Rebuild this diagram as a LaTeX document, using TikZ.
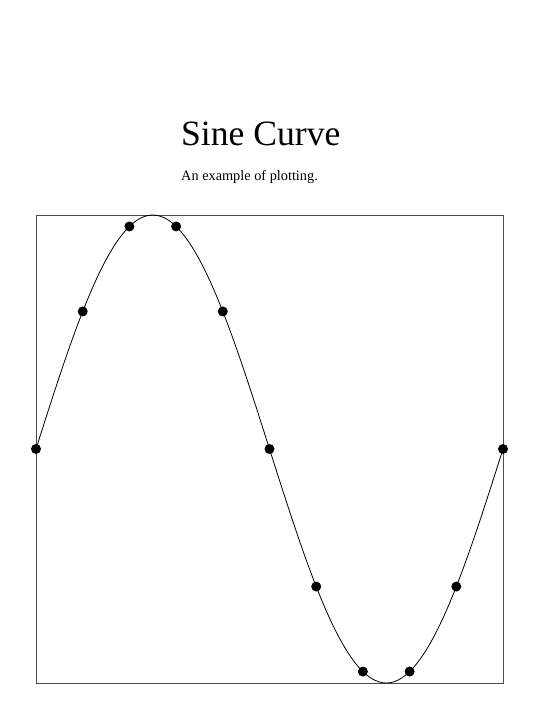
\documentclass[tikz,border=0pt]{standalone}
\usepackage{fontspec}
\setmainfont{Liberation Serif}
\begin{document}
\begin{tikzpicture}[x=1bp,y=-1bp,
  titletext/.style={anchor=base west,inner sep=0pt,font=\fontsize{35.6bp}{40bp}\selectfont},
  subtext/.style={anchor=base west,inner sep=0pt,font=\fontsize{14.3bp}{17bp}\selectfont},
  dotmark/.style={circle,fill=black,inner sep=0pt,minimum size=10bp},
  frame/.style={draw=black!70,line width=0.8bp}]
\useasboundingbox (0,0) rectangle (540,720);
\node[titletext] (title) at (181,145) {Sine Curve};
\node[subtext] (sub) at (181,180) {An example of plotting.};
\draw[frame] (36,215) rectangle (503,683);
\draw[line width=0.8bp,black] plot[domain=0:360,samples=121,smooth] ({36+1.29722*\x},{449-234*sin(\x)});
\foreach \i in {0,...,10}{
  \node[dotmark] (d\i) at ({36+\i*46.7},{449-234*sin(36*\i)}) {};
}
\end{tikzpicture}
\end{document}
